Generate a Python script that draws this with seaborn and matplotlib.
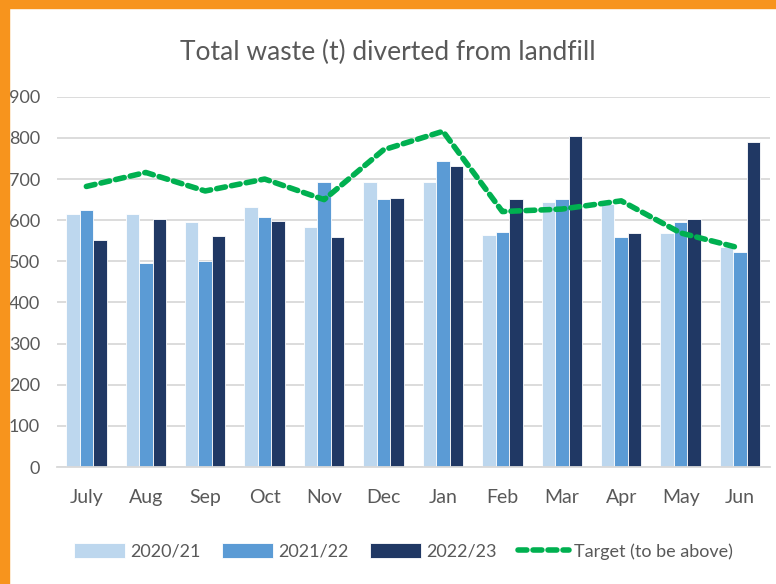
import matplotlib
matplotlib.use("Agg")
import matplotlib.pyplot as plt
from matplotlib.patches import Rectangle
import seaborn as sns
import pandas as pd

# data
months = ["July", "Aug", "Sep", "Oct", "Nov", "Dec", "Jan", "Feb", "Mar", "Apr", "May", "Jun"]
years = ["2020/21", "2021/22", "2022/23"]
waste_2020 = [616, 616, 595, 632, 583, 693, 692, 563, 644, 639, 568, 535]
waste_2021 = [624, 496, 500, 607, 693, 651, 744, 572, 651, 559, 596, 522]
waste_2022 = [553, 604, 561, 599, 559, 654, 731, 651, 805, 568, 603, 791]
target = [682, 716, 671, 700, 650, 771, 816, 621, 627, 647, 569, 532]

bar_colors = ["#BDD7EE", "#5B9BD5", "#203864"]
green = "#00B050"
text_grey = "#595959"

sns.set_theme(style="white")
plt.rcParams["font.family"] = ["Lato", "DejaVu Sans"]

df = pd.DataFrame({
    "month": months * 3,
    "year": [years[0]] * 12 + [years[1]] * 12 + [years[2]] * 12,
    "value": waste_2020 + waste_2021 + waste_2022,
})
target_df = pd.DataFrame({"month": months, "target": target})

fig = plt.figure(figsize=(7.76, 5.84), dpi=100)
ax = fig.add_axes([0.073, 0.2003, 0.919, 0.634])

sns.barplot(data=df, x="month", y="value", hue="year", order=months,
            hue_order=years, palette=bar_colors, saturation=1, width=0.68,
            edgecolor="white", linewidth=0.6, ax=ax)
sns.lineplot(data=target_df, x="month", y="target", sort=False, color=green,
             linewidth=4, linestyle=(0, (1.6, 1.1)), dash_capstyle="round",
             label="Target (to be above)", ax=ax)

ax.set_ylim(0, 900)
ax.set_xlim(-0.5, 11.5)
ax.set_yticks(range(0, 901, 100))
ax.yaxis.grid(True, color="#D9D9D9", linewidth=1.3)
ax.set_axisbelow(True)
for side in ["top", "right", "left"]:
    ax.spines[side].set_visible(False)
ax.spines["bottom"].set_color("#D9D9D9")
ax.spines["bottom"].set_linewidth(1.3)
ax.set_xlabel("")
ax.set_ylabel("")
ax.tick_params(axis="x", labelsize=14, colors=text_grey, pad=16, length=0)
ax.tick_params(axis="y", labelsize=13, colors=text_grey, pad=12, length=0)

fig.text(0.5, 0.91, "Total waste (t) diverted from landfill", ha="center",
         va="center", fontsize=19, color=text_grey)

handles, labels = ax.get_legend_handles_labels()
ax.legend(handles, labels, loc="center", bbox_to_anchor=(0.52, 0.056),
          bbox_transform=fig.transFigure, ncol=4, frameon=False, fontsize=13,
          labelcolor=text_grey, handlelength=2.8, handleheight=0.9,
          columnspacing=1.2, handletextpad=0.3)

# orange frame on top and left edge
fig.patches.append(Rectangle((0, 0.986), 1, 0.014, transform=fig.transFigure,
                             color="#F7941D", zorder=10))
fig.patches.append(Rectangle((0, 0), 0.011, 1, transform=fig.transFigure,
                             color="#F7941D", zorder=10))

fig.savefig("out.png", dpi=100)
